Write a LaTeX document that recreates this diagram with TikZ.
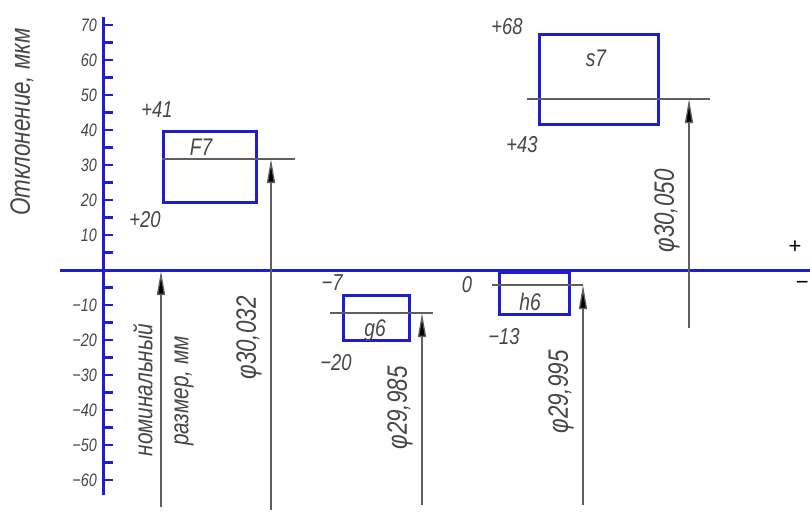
\documentclass[tikz,border=0pt]{standalone}
\usepackage{fontspec}
\setmainfont{Liberation Sans}
\newfontfamily\gost{Liberation Sans}[FakeStretch=0.8]
\usetikzlibrary{arrows.meta}
\definecolor{axisblue}{RGB}{30,30,205}
\definecolor{txtgray}{RGB}{70,70,70}
\definecolor{lngray}{RGB}{95,95,95}
\begin{document}
\begin{tikzpicture}[x=1pt,y=-1pt,
  blueline/.style={draw=axisblue,line width=3pt},
  tickline/.style={draw=axisblue,line width=2.4pt},
  fieldbox/.style={draw=axisblue,line width=2.6pt,inner sep=0pt,anchor=north west},
  refline/.style={draw=lngray,line width=1.3pt},
  dimarrow/.style={draw=lngray,line width=1.3pt,-{Triangle[length=24pt,width=8pt,fill=black]}},
  lbl/.style={text=txtgray,font=\fontsize{23}{23}\gost\itshape,inner sep=0pt},
  ticklbl/.style={text=txtgray,font=\fontsize{18}{18}\gost\itshape,inner sep=0pt,anchor=east},
  boxlbl/.style={text=txtgray,font=\fontsize{24}{24}\gost\itshape,inner sep=0pt},
  rotlbl/.style={text=txtgray,font=\fontsize{26}{26}\gost\itshape,inner sep=0pt,rotate=90},
  dialbl/.style={text=txtgray,font=\fontsize{28}{28}\gost\itshape,inner sep=0pt,rotate=90},
  signlbl/.style={text=black,font=\fontsize{22}{22}\selectfont,inner sep=0pt}]
\useasboundingbox (0,0) rectangle (810,514);
% axes
\coordinate (ytop) at (103,17);
\coordinate (ybot) at (103,495);
\coordinate (xleft) at (60,270);
\coordinate (xright) at (812,270);
\draw[blueline] (ytop) -- (ybot);
\draw[blueline] (xleft) -- (xright);
\foreach \v in {-60,-55,...,70}{
  \ifnum\v=0\else
  \draw[tickline] (103,{270-3.5*\v}) -- (113,{270-3.5*\v});
  \fi}
\foreach \v in {70,60,...,10}{
  \node[ticklbl] (t\v) at (97,{270-3.5*\v}) {\v};}
\foreach \v/\n in {-10/m10,-20/m20,-30/m30,-40/m40,-50/m50,-60/m60}{
  \node[ticklbl] (t\n) at (97,{270-3.5*\v}) {−\the\numexpr-\v\relax};}
\node[rotlbl,font=\fontsize{28}{28}\gost\itshape] (ylab) at (22,122) {Отклонение, мкм};
\node[signlbl] (plus) at (795,247) {+};
\node[signlbl,anchor=east] (minus) at (809,285) {−};
% nominal
\coordinate (nombase) at (161,507);
\coordinate (nomtip) at (161,271);
\draw[dimarrow] (nombase) -- (nomtip);
\node[rotlbl] (nom1) at (143,390) {номинальный};
\node[rotlbl] (nom2) at (184,391) {размер, мм};
% F7
\node[fieldbox,minimum width=93pt,minimum height=71pt] (F7box) at (162,130) {};
\coordinate (F7ref) at (295,159);
\draw[refline] (F7box.west |- F7ref) -- (F7ref);
\coordinate (F7base) at (271,510);
\draw[dimarrow] (F7base) -- (F7base |- F7ref);
\node[boxlbl] (F7lbl) at (201,147) {F7};
\node[lbl] (F7up) at (157,110) {+41};
\node[lbl] (F7lo) at (145,220) {+20};
\node[dialbl] (F7dia) at (249,338) {φ30,032};
% g6
\node[fieldbox,minimum width=66pt,minimum height=45pt] (g6box) at (342,294) {};
\coordinate (g6ref) at (433,313);
\draw[refline] (330,313) -- (g6ref);
\coordinate (g6base) at (422,505);
\draw[dimarrow] (g6base) -- (g6base |- g6ref);
\node[boxlbl] (g6lbl) at (375,331) {g6};
\node[lbl] (g6up) at (332,283) {−7};
\node[lbl] (g6lo) at (336,363) {−20};
\node[dialbl] (g6dia) at (400,408) {φ29,985};
% h6
\node[fieldbox,minimum width=70pt,minimum height=42pt] (h6box) at (498,271) {};
\coordinate (h6ref) at (583,285);
\draw[refline] (492,285) -- (h6ref);
\coordinate (h6base) at (583,505);
\draw[dimarrow] (h6base) -- (h6ref);
\node[boxlbl] (h6lbl) at (530,302) {h6};
\node[lbl] (h6up) at (467,285) {0};
\node[lbl] (h6lo) at (504,337) {−13};
\node[dialbl] (h6dia) at (561,392) {φ29,995};
% s7
\node[fieldbox,minimum width=119pt,minimum height=90pt] (s7box) at (538,33) {};
\coordinate (s7ref) at (710,99);
\draw[refline] (527,99) -- (s7ref);
\coordinate (s7base) at (689,328);
\draw[dimarrow] (s7base) -- (s7base |- s7ref);
\node[boxlbl] (s7lbl) at (596,58) {s7};
\node[lbl] (s7up) at (507,27) {+68};
\node[lbl] (s7lo) at (522,145) {+43};
\node[dialbl] (s7dia) at (667,211) {φ30,050};
\end{tikzpicture}
\end{document}
